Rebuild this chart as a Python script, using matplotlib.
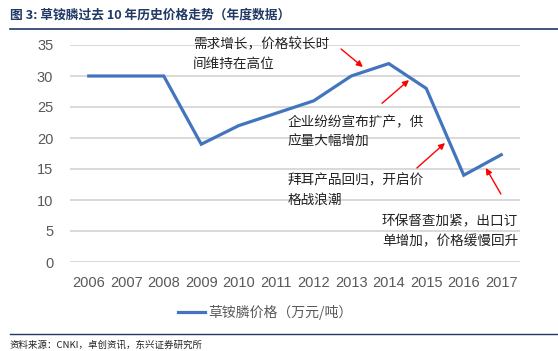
import matplotlib.pyplot as plt
import matplotlib.lines as mlines

plt.rcParams['font.family'] = ['Noto Sans CJK SC', 'DejaVu Sans']

# dati
anni = ['2006', '2007', '2008', '2009', '2010', '2011', '2012', '2013',
        '2014', '2015', '2016', '2017']
prezzo = [30, 30, 30, 19, 22, 24, 26, 30, 32, 28, 14, 17.3]
yticks = [0, 5, 10, 15, 20, 25, 30, 35]

blu = '#4275BD'
grigio = '#595959'

fig = plt.figure(figsize=(5.58, 3.51), dpi=100)
W, H = 558.0, 351.0
ax = fig.add_axes([70 / W, 1 - 262 / H, 450 / W, 217 / H])

x = list(range(len(anni)))
ax.plot(x, prezzo, color=blu, linewidth=2.3, solid_joinstyle='miter', zorder=3)

ax.set_xlim(-0.5, len(anni) - 0.5)
ax.set_ylim(0, 35)
ax.set_yticks(yticks)
ax.set_xticks(x)
ax.set_xticklabels(anni)
ax.yaxis.grid(True, color='#D9D9D9', linewidth=1.4)
ax.set_axisbelow(True)
for s in ax.spines.values():
    s.set_visible(False)
ax.tick_params(length=0, labelsize=10.5, labelcolor=grigio, pad=6)
for lab in ax.get_xticklabels() + ax.get_yticklabels():
    lab.set_family('Liberation Sans')
ax.tick_params(axis='y', pad=12)
ax.tick_params(axis='x', pad=10)

# annotazioni
note = [
    ('需求增长，价格较长时\n间维持在高位', 2.78, 33.5),
    ('企业纷纷宣布扩产，供\n应量大幅增加', 5.31, 20.97),
    ('拜耳产品回归，开启价\n格战浪潮', 5.31, 11.6),
    ('环保督查加紧，出口订\n单增加，价格缓慢回升', 7.82, 4.9),
]
for testo, tx, ty in note:
    ax.text(tx, ty, testo, fontsize=9.8, color='#222222', va='center',
            ha='left', linespacing=1.55)

frecce = [
    ((6.73, 34.35), (7.31, 31.45)),
    ((7.82, 25.6), (8.54, 29.35)),
    ((8.75, 15.16), (9.5, 19.19)),
    ((10.99, 10.97), (10.59, 15.16)),
]
for (x0, y0), (x1, y1) in frecce:
    ax.annotate('', xy=(x1, y1), xytext=(x0, y0), xycoords='data',
                arrowprops=dict(arrowstyle='-|>', color='#FF0000', lw=1.0,
                                mutation_scale=9, shrinkA=0, shrinkB=0),
                annotation_clip=False)

# titolo
fig.text(10 / W, 1 - 15 / H, '图 3: 草铵膦过去 10 年历史价格走势（年度数据）',
         fontsize=9.2, fontweight='bold', color='#1F3864', va='center', ha='left')
fig.add_artist(mlines.Line2D([10 / W, 1.0], [1 - 29 / H, 1 - 29 / H],
                             color='#1F3864', linewidth=1.2))

# legenda
fig.add_artist(mlines.Line2D([178 / W, 205 / W], [1 - 312 / H, 1 - 312 / H],
                             color=blu, linewidth=2.3))
fig.text(208 / W, 1 - 312 / H, '草铵膦价格（万元/吨）', fontsize=10,
         color=grigio, va='center', ha='left')

# fonte
fig.add_artist(mlines.Line2D([10 / W, 1.0], [1 - 334 / H, 1 - 334 / H],
                             color='#1F3864', linewidth=1.0))
fig.text(10 / W, 1 - 345 / H, '资料来源：CNKI，卓创资讯，东兴证券研究所',
         fontsize=6.8, style='italic', color='#222222', va='center', ha='left')

fig.savefig('out.png', dpi=100)
